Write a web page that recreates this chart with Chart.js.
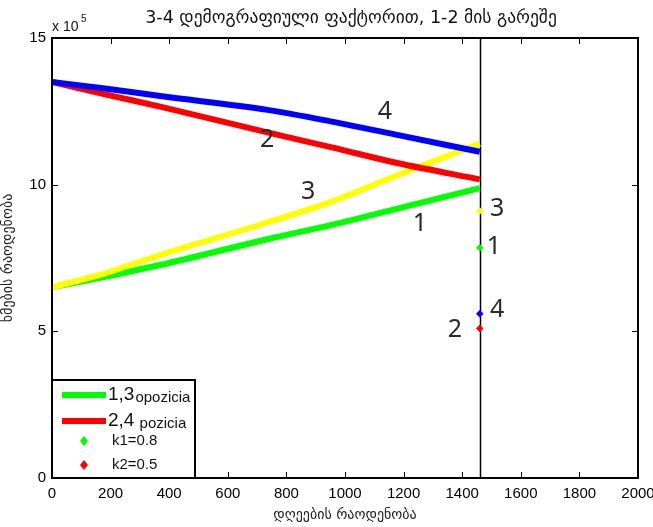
<!DOCTYPE html>
<html>
<head>
<meta charset="utf-8">
<script src="https://cdn.jsdelivr.net/npm/chart.js@4"></script>
<style>
  html, body { margin: 0; padding: 0; background: #fff; }
  #wrap { width: 653px; height: 527px; }
</style>
</head>
<body>
<div id="wrap"><canvas id="chart" width="653" height="527"></canvas></div>
<script>
// ── DATA (values in units of 10^5) ──
const days       = [0, 181, 369, 735, 955, 1182, 1460];
const series1    = [6.50, 6.86, 7.26, 8.14, 8.63, 9.19, 9.88];       // green
const series2    = [13.50, 13.08, 12.66, 11.78, 11.27, 10.73, 10.18]; // red
const series3    = [6.50, 6.98, 7.60, 8.71, 9.42, 10.33, 11.40];      // yellow
const series4    = [13.50, 13.28, 13.02, 12.55, 12.15, 11.69, 11.12]; // blue

const endDay     = 1460;
const endValues  = [7.85, 5.1, 9.1, 5.6];   // 1, 2, 3, 4

const noteText   = ['4', '2', '3', '1', '3', '1', '4', '2'];
const noteX      = [1136, 734, 874, 1256, 1519, 1508, 1519, 1375];
const noteY      = [12.48, 11.52, 9.75, 8.66, 9.17, 7.88, 5.73, 5.05];

const xTicks     = [0, 200, 400, 600, 800, 1000, 1200, 1400, 1600, 1800, 2000];
const yTicks     = [0, 5, 10, 15];

const titleText  = '3-4 დემოგრაფიული ფაქტორით, 1-2 მის გარეშე';
const xTitle     = 'დღეების რაოდენობა';
const yTitle     = 'ხმების რაოდენობა';
const legendBig  = ['1,3', '2,4'];
const legendSmall = ['opozicia', ' pozicia'];
const legendMarks = ['k1=0.8', 'k2=0.5'];

// ── COLORS ──
const C = {
  green:  '#00ff00',
  red:    '#ff0000',
  yellow: '#ffff00',
  blue:   '#0000ff',
  ink:    '#000000',
  note:   '#2a2a2a',
};

const TICK_FONT = "'Liberation Sans', Arial, sans-serif";
const GEO_FONT  = "'DejaVu Sans', sans-serif";

const lineSet = (label, data, color, order) => ({
  label,
  data: days.map((d, i) => ({ x: d, y: data[i] })),
  borderColor: color,
  backgroundColor: color,
  borderWidth: 6,
  pointRadius: 0,
  cubicInterpolationMode: 'monotone',
  fill: false,
  order,
});

const pointSet = (label, value, color) => ({
  label,
  data: [{ x: endDay, y: value }],
  borderColor: color,
  backgroundColor: color,
  showLine: false,
  pointStyle: 'rectRot',
  pointRadius: 3.8,
  borderWidth: 0,
  order: 0,
});

// ── PLUGIN: frame, inward ticks, texts, legend ──
const decor = {
  id: 'decor',
  beforeDatasetsDraw(chart) {
    const { ctx, chartArea: a, scales: { x } } = chart;
    // vertical marker line at the last day
    const vx = Math.round(x.getPixelForValue(endDay)) + 0.5;
    ctx.save();
    ctx.strokeStyle = C.ink;
    ctx.lineWidth = 1.5;
    ctx.beginPath();
    ctx.moveTo(vx, a.top);
    ctx.lineTo(vx, a.bottom);
    ctx.stroke();
    ctx.restore();
  },
  afterDatasetsDraw(chart) {
    const { ctx, scales: { x, y } } = chart;
    ctx.save();
    // curve numbers
    ctx.fillStyle = C.note;
    ctx.font = "25px 'Noto Sans', 'Open Sans', sans-serif";
    ctx.textAlign = 'center';
    ctx.textBaseline = 'middle';
    noteText.forEach((t, i) => {
      ctx.fillText(t, x.getPixelForValue(noteX[i]), y.getPixelForValue(noteY[i]));
    });
    ctx.restore();
  },
  afterDraw(chart) {
    const { ctx, chartArea: a, scales: { x, y } } = chart;
    ctx.save();

    // frame
    ctx.strokeStyle = C.ink;
    ctx.lineWidth = 2;
    ctx.strokeRect(a.left, a.top, a.right - a.left, a.bottom - a.top);

    // inward ticks
    ctx.lineWidth = 1;
    const tl = 6;
    ctx.beginPath();
    xTicks.forEach(v => {
      const px = Math.round(x.getPixelForValue(v)) + 0.5;
      ctx.moveTo(px, a.bottom); ctx.lineTo(px, a.bottom - tl);
      ctx.moveTo(px, a.top);    ctx.lineTo(px, a.top + tl);
    });
    yTicks.forEach(v => {
      const py = Math.round(y.getPixelForValue(v)) + 0.5;
      ctx.moveTo(a.left, py);  ctx.lineTo(a.left + tl, py);
      ctx.moveTo(a.right, py); ctx.lineTo(a.right - tl, py);
    });
    ctx.stroke();

    // title
    ctx.fillStyle = '#111';
    ctx.textAlign = 'center';
    ctx.textBaseline = 'middle';
    ctx.font = `17.5px ${GEO_FONT}`;
    ctx.fillText(titleText, (a.left + a.right) / 2 + 6, 18);

    // exponent
    ctx.textAlign = 'left';
    ctx.font = `14px ${TICK_FONT}`;
    ctx.fillText('x 10', a.left, 27);
    ctx.font = `10px ${TICK_FONT}`;
    ctx.fillText('5', a.left + 29, 19);

    // legend box
    const lx = a.left, ly = 380, lw = 143, lh = a.bottom - ly;
    ctx.fillStyle = '#fff';
    ctx.fillRect(lx, ly, lw, lh);
    ctx.lineWidth = 2;
    ctx.strokeStyle = C.ink;
    ctx.strokeRect(lx, ly, lw, lh);

    const lineCols = [C.green, C.red];
    [395, 421].forEach((ry, i) => {
      ctx.strokeStyle = lineCols[i];
      ctx.lineWidth = 6;
      ctx.beginPath();
      ctx.moveTo(lx + 10, ry);
      ctx.lineTo(lx + 54, ry);
      ctx.stroke();
      ctx.fillStyle = '#111';
      ctx.font = `19px ${TICK_FONT}`;
      ctx.fillText(legendBig[i], lx + 56, ry);
      const w = ctx.measureText(legendBig[i]).width;
      ctx.font = `15px ${TICK_FONT}`;
      ctx.fillText(legendSmall[i], lx + 57 + w, ry + 3);
    });

    [441, 465].forEach((ry, i) => {
      const mx = lx + 32;
      ctx.fillStyle = lineCols[i];
      ctx.beginPath();
      ctx.moveTo(mx, ry - 5); ctx.lineTo(mx + 4, ry);
      ctx.lineTo(mx, ry + 5); ctx.lineTo(mx - 4, ry);
      ctx.closePath();
      ctx.fill();
      ctx.fillStyle = '#111';
      ctx.font = `15px ${TICK_FONT}`;
      ctx.fillText(legendMarks[i], lx + 60, ry);
    });

    ctx.restore();
  },
};

new Chart(document.getElementById('chart'), {
  type: 'line',
  data: {
    datasets: [
      lineSet('1', series1, C.green, 4),
      lineSet('3', series3, C.yellow, 3),
      lineSet('2', series2, C.red, 2),
      lineSet('4', series4, C.blue, 1),
      pointSet('p1', endValues[0], C.green),
      pointSet('p2', endValues[1], C.red),
      pointSet('p3', endValues[2], C.yellow),
      pointSet('p4', endValues[3], C.blue),
    ],
  },
  options: {
    responsive: false,
    animation: false,
    layout: { padding: { left: 0, right: 15, top: 38, bottom: 0 } },
    plugins: {
      legend:  { display: false },
      tooltip: { enabled: false },
    },
    scales: {
      x: {
        type: 'linear',
        min: 0, max: 2000,
        afterFit: s => { s.height = 49; s.paddingLeft = 0; s.paddingRight = 0; },
        afterBuildTicks: s => { s.ticks = xTicks.map(v => ({ value: v })); },
        grid: { display: false, drawTicks: false },
        border: { display: false },
        ticks: {
          color: '#000', padding: 7,
          maxRotation: 0, autoSkip: false,
          callback: v => String(v),
          font: { family: TICK_FONT, size: 15 },
        },
        title: {
          display: true, text: xTitle, color: '#222',
          padding: { top: 2, bottom: 3 },
          font: { family: GEO_FONT, size: 14 },
        },
      },
      y: {
        min: 0, max: 15,
        afterFit: s => { s.width = 52; s.paddingTop = 0; s.paddingBottom = 0; },
        afterBuildTicks: s => { s.ticks = yTicks.map(v => ({ value: v })); },
        grid: { display: false, drawTicks: false },
        border: { display: false },
        ticks: {
          color: '#000', padding: 6,
          callback: v => String(v),
          font: { family: TICK_FONT, size: 15 },
        },
        title: {
          display: true, text: yTitle, color: '#222',
          padding: { top: 0, bottom: 0 },
          font: { family: GEO_FONT, size: 14 },
        },
      },
    },
  },
  plugins: [decor],
});
</script>
</body>
</html>
